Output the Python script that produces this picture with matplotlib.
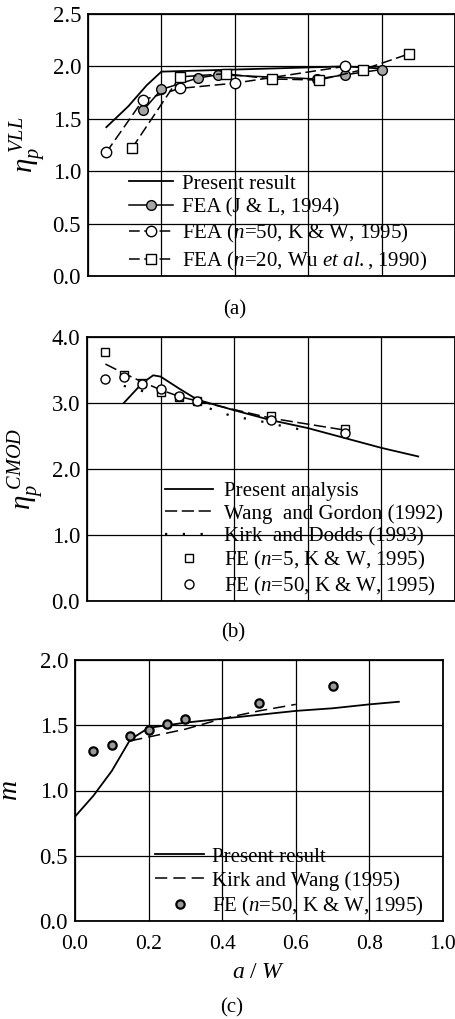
import matplotlib
matplotlib.use('Agg')
import matplotlib.pyplot as plt

plt.rcParams['font.family'] = ['Liberation Serif', 'DejaVu Serif']
plt.rcParams['mathtext.fontset'] = 'custom'
plt.rcParams['mathtext.rm'] = 'Liberation Serif'
plt.rcParams['mathtext.it'] = 'Liberation Serif:italic'

# ---- (a) eta_p VLL ----
a_present_x = [0.05, 0.11, 0.16, 0.2, 0.3, 0.4, 0.5, 0.6, 0.7, 0.8]
a_present_y = [1.42, 1.62, 1.82, 1.95, 1.96, 1.97, 1.98, 1.99, 2.0, 1.98]
a_jl_x = [0.15, 0.2, 0.3, 0.355, 0.625, 0.7, 0.8]
a_jl_y = [1.58, 1.78, 1.89, 1.92, 1.88, 1.92, 1.97]
a_kw_x = [0.05, 0.15, 0.25, 0.4, 0.7]
a_kw_y = [1.18, 1.68, 1.79, 1.84, 2.0]
a_wu_x = [0.12, 0.25, 0.375, 0.5, 0.63, 0.75, 0.875]
a_wu_y = [1.22, 1.90, 1.93, 1.88, 1.87, 1.97, 2.12]

# ---- (b) eta_p CMOD ----
b_present_x = [0.1, 0.15, 0.18, 0.2, 0.25, 0.3, 0.4, 0.5, 0.6, 0.7, 0.8, 0.9]
b_present_y = [3.0, 3.3, 3.42, 3.40, 3.22, 3.05, 2.89, 2.74, 2.62, 2.47, 2.32, 2.19]
b_wg_x = [0.05, 0.1, 0.15, 0.2, 0.25, 0.3, 0.5, 0.7]
b_wg_y = [3.59, 3.45, 3.32, 3.20, 3.10, 3.03, 2.77, 2.59]
b_kd_x = [0.1, 0.17, 0.3, 0.4, 0.45, 0.54, 0.6]
b_kd_y = [3.26, 3.15, 2.98, 2.79, 2.75, 2.64, 2.58]
b_fe5_x = [0.05, 0.1, 0.15, 0.2, 0.25, 0.3, 0.5, 0.7]
b_fe5_y = [3.78, 3.42, 3.30, 3.17, 3.09, 3.03, 2.80, 2.60]
b_fe50_x = [0.05, 0.1, 0.15, 0.2, 0.25, 0.3, 0.5, 0.7]
b_fe50_y = [3.37, 3.40, 3.29, 3.21, 3.10, 3.03, 2.74, 2.55]

# ---- (c) m ----
c_present_x = [0.0, 0.05, 0.1, 0.15, 0.2, 0.25, 0.3, 0.4, 0.5, 0.6, 0.7, 0.8, 0.88]
c_present_y = [0.80, 0.96, 1.15, 1.39, 1.48, 1.50, 1.52, 1.55, 1.58, 1.61, 1.63, 1.66, 1.68]
c_kw_x = [0.15, 0.2, 0.3, 0.4, 0.5, 0.6]
c_kw_y = [1.38, 1.41, 1.47, 1.55, 1.61, 1.66]
c_fe_x = [0.05, 0.1, 0.15, 0.2, 0.25, 0.3, 0.5, 0.7]
c_fe_y = [1.30, 1.35, 1.42, 1.46, 1.51, 1.55, 1.67, 1.80]
c_xticks = [0.0, 0.2, 0.4, 0.6, 0.8, 1.0]

W, H = 455, 1019
fig = plt.figure(figsize=(W / 100, H / 100), dpi=100)


def box(left, right, top, bottom):
    return [left / W, 1 - bottom / H, (right - left) / W, (bottom - top) / H]


def style(ax, yticks, fmt='%.1f'):
    ax.set_xlim(0, 1.0)
    ax.set_xticks(c_xticks)
    ax.set_yticks(yticks)
    ax.set_ylim(yticks[0], yticks[-1])
    ax.set_yticklabels([fmt % v for v in yticks])
    ax.grid(True, color='black', linewidth=0.9)
    ax.tick_params(length=0, labelsize=16.5, pad=5)
    for s in ax.spines.values():
        s.set_linewidth(1.3)


ms_kw = dict(markeredgecolor='black', markeredgewidth=1.0)
leg_kw = dict(frameon=False, fontsize=15, borderaxespad=0, loc='lower left')

# (a)
ax1 = fig.add_axes(box(88, 455, 14, 276))
style(ax1, [0.0, 0.5, 1.0, 1.5, 2.0, 2.5])
ax1.set_xticklabels([])
ax1.plot(a_present_x, a_present_y, '-', color='black', lw=1.3, label='Present result')
ax1.plot(a_jl_x, a_jl_y, '-', color='black', lw=1.1, marker='o', ms=7,
         markerfacecolor='0.65', label='FEA (J & L, 1994)', **ms_kw)
ax1.plot(a_kw_x, a_kw_y, color='black', lw=1.1, ls=(0, (7, 3)), marker='o', ms=7.5,
         markerfacecolor='white', label='FEA ($n$=50, K & W, 1995)', **ms_kw)
ax1.plot(a_wu_x, a_wu_y, color='black', lw=1.1, ls=(0, (7, 3)), marker='s', ms=6.5,
         markerfacecolor='white', label='FEA ($n$=20, Wu $et\\ al.$, 1990)', **ms_kw)
ax1.legend(bbox_to_anchor=(0.09, -0.02), handlelength=2.1, handletextpad=0.45,
           labelspacing=0.22, **leg_kw)
ax1.set_ylabel(r'$\eta_p^{\ VLL}$', fontsize=21)
ax1.yaxis.set_label_coords(-0.105, 0.5)
fig.text(235 / W, 1 - 310 / H, '(a)', ha='center', va='center', fontsize=15)

# (b)
ax2 = fig.add_axes(box(87, 455, 337, 601))
style(ax2, [0.0, 1.0, 2.0, 3.0, 4.0])
ax2.set_xticklabels([])
ax2.plot(b_present_x, b_present_y, '-', color='black', lw=1.3, label='Present analysis')
ax2.plot(b_wg_x, b_wg_y, color='black', lw=1.1, ls=(0, (8, 3)), label='Wang  and Gordon (1992)')
ax2.plot(b_kd_x, b_kd_y, color='black', lw=1.6, ls=(0, (1, 7)), label='Kirk  and Dodds (1993)')
ax2.plot(b_fe5_x, b_fe5_y, ls='none', marker='s', ms=6, markerfacecolor='white',
         label='FE ($n$=5, K & W, 1995)', **ms_kw)
ax2.plot(b_fe50_x, b_fe50_y, ls='none', marker='o', ms=6.5, markerfacecolor='white',
         label='FE ($n$=50, K & W, 1995)', **ms_kw)
ax2.legend(bbox_to_anchor=(0.19, -0.02), handlelength=2.3, handletextpad=0.5,
           labelspacing=0.14, **leg_kw)
ax2.set_ylabel(r'$\eta_p^{\ CMOD}$', fontsize=21)
ax2.yaxis.set_label_coords(-0.11, 0.5)
fig.text(233 / W, 1 - 633 / H, '(b)', ha='center', va='center', fontsize=15)

# (c)
ax3 = fig.add_axes(box(75, 443, 660, 921))
style(ax3, [0.0, 0.5, 1.0, 1.5, 2.0])
ax3.set_xticklabels(['%.1f' % v for v in c_xticks])
ax3.tick_params(axis='x', pad=10, labelsize=15.5)
ax3.plot(c_present_x, c_present_y, '-', color='black', lw=1.3, label='Present result')
ax3.plot(c_kw_x, c_kw_y, color='black', lw=1.1, ls=(0, (8, 4)), label='Kirk and Wang (1995)')
ax3.plot(c_fe_x, c_fe_y, ls='none', marker='o', ms=6, markerfacecolor='0.6',
         markeredgecolor='black', markeredgewidth=1.6, label='FE ($n$=50, K & W, 1995)')
ax3.legend(bbox_to_anchor=(0.195, -0.02), handlelength=2.35, handletextpad=0.4,
           labelspacing=0.2, **leg_kw)
ax3.set_ylabel(r'$m$', fontsize=20)
ax3.yaxis.set_label_coords(-0.14, 0.5)
ax3.set_xlabel(r'$a\ /\ W$', fontsize=17, labelpad=6)
fig.text(232 / W, 1 - 1008 / H, '(c)', ha='center', va='center', fontsize=15)

fig.savefig('out.png', dpi=100)
